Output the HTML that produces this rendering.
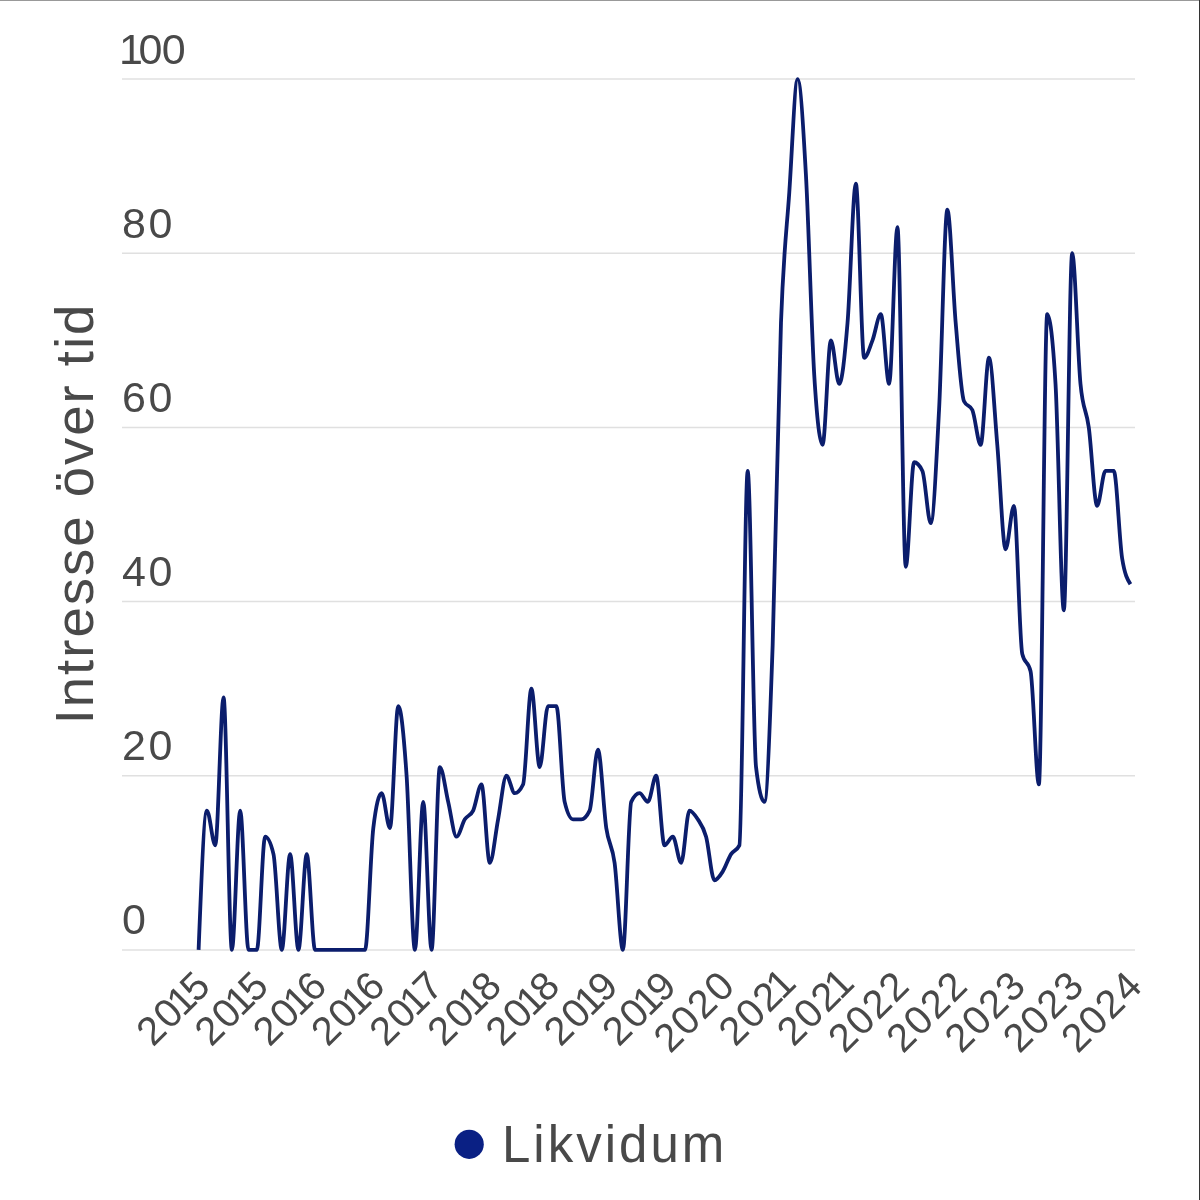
<!DOCTYPE html>
<html lang="sv">
<head>
<meta charset="utf-8">
<title>Likvidum – Intresse över tid</title>
<style>
html,body{margin:0;padding:0;background:#fff;}
body{width:1200px;height:1200px;overflow:hidden;position:relative;font-family:"Liberation Sans", sans-serif;}
svg{display:block;position:absolute;left:0;top:0;}
text{font-family:"Liberation Sans", sans-serif;fill:#494949;}
.ytick{font-size:43px;letter-spacing:2.5px;}
.xtick{font-size:40px;}
.title{font-size:54.5px;letter-spacing:2px;}
.legend{font-size:51px;letter-spacing:3px;}
.frame-top{position:absolute;left:0;top:0;width:1200px;height:1px;background:#999999;}
.frame-right{position:absolute;left:1199px;top:0;width:1px;height:1200px;background:#333333;}
</style>
</head>
<body>
<svg width="1200" height="1200" viewBox="0 0 1200 1200">

<g stroke="#e0e0e0" stroke-width="1.5" shape-rendering="auto">
<line x1="122" y1="949.90" x2="1135" y2="949.90"/>
<line x1="122" y1="775.74" x2="1135" y2="775.74"/>
<line x1="122" y1="601.58" x2="1135" y2="601.58"/>
<line x1="122" y1="427.42" x2="1135" y2="427.42"/>
<line x1="122" y1="253.26" x2="1135" y2="253.26"/>
<line x1="122" y1="79.10" x2="1135" y2="79.10"/>
</g>
<g class="ytick">
<text x="122" y="934.40">0</text>
<text x="122" y="760.24">20</text>
<text x="122" y="586.08">40</text>
<text x="122" y="411.92">60</text>
<text x="122" y="237.76">80</text>
<text x="119" y="63.60"><tspan style="letter-spacing:-4.5px">1</tspan><tspan style="letter-spacing:-0.5px">00</tspan></text>
</g>
<g class="xtick">
<text transform="translate(211.70,988.90) rotate(-45)" x="-83.12 -59.32 -40.42 -21.52" y="0">2015</text>
<text transform="translate(269.94,988.90) rotate(-45)" x="-83.12 -59.32 -40.42 -21.52" y="0">2015</text>
<text transform="translate(328.18,988.90) rotate(-45)" x="-83.12 -59.32 -40.42 -21.52" y="0">2016</text>
<text transform="translate(386.41,988.90) rotate(-45)" x="-83.12 -59.32 -40.42 -21.52" y="0">2016</text>
<text transform="translate(444.65,988.90) rotate(-45)" x="-83.12 -59.32 -40.42 -21.52" y="0">2017</text>
<text transform="translate(502.89,988.90) rotate(-45)" x="-83.12 -59.32 -40.42 -21.52" y="0">2018</text>
<text transform="translate(561.12,988.90) rotate(-45)" x="-83.12 -59.32 -40.42 -21.52" y="0">2018</text>
<text transform="translate(619.36,988.90) rotate(-45)" x="-83.12 -59.32 -40.42 -21.52" y="0">2019</text>
<text transform="translate(677.60,988.90) rotate(-45)" x="-83.12 -59.32 -40.42 -21.52" y="0">2019</text>
<text transform="translate(735.84,988.90) rotate(-45)" x="-92.92 -69.12 -45.32 -21.52" y="0">2020</text>
<text transform="translate(794.08,988.90) rotate(-45)" x="-83.12 -59.32 -35.52 -16.62" y="0">2021</text>
<text transform="translate(852.31,988.90) rotate(-45)" x="-83.12 -59.32 -35.52 -16.62" y="0">2021</text>
<text transform="translate(910.55,988.90) rotate(-45)" x="-92.92 -69.12 -45.32 -21.52" y="0">2022</text>
<text transform="translate(968.79,988.90) rotate(-45)" x="-92.92 -69.12 -45.32 -21.52" y="0">2022</text>
<text transform="translate(1027.03,988.90) rotate(-45)" x="-92.92 -69.12 -45.32 -21.52" y="0">2023</text>
<text transform="translate(1085.26,988.90) rotate(-45)" x="-92.92 -69.12 -45.32 -21.52" y="0">2023</text>
<text transform="translate(1143.50,988.90) rotate(-45)" x="-92.92 -69.12 -45.32 -21.52" y="0">2024</text>
</g>
<text class="title" text-anchor="middle" transform="translate(93,513.5) rotate(-90)">Intresse över tid</text>
<path d="M198.60,949.90C201.37,880.24,204.15,810.57,206.92,810.57C209.69,810.57,212.47,845.40,215.24,845.40C218.01,845.40,220.79,697.37,223.56,697.37C226.33,697.37,229.11,949.90,231.88,949.90C234.65,949.90,237.42,810.57,240.20,810.57C242.97,810.57,245.74,949.90,248.52,949.90C251.29,949.90,254.06,949.90,256.84,949.90C259.61,949.90,262.38,836.70,265.16,836.70C267.93,836.70,270.70,842.50,273.48,854.11C276.25,865.72,279.02,949.90,281.80,949.90C284.57,949.90,287.34,854.11,290.12,854.11C292.89,854.11,295.66,949.90,298.44,949.90C301.21,949.90,303.98,854.11,306.76,854.11C309.53,854.11,312.30,949.90,315.07,949.90C317.85,949.90,320.62,949.90,323.39,949.90C326.17,949.90,328.94,949.90,331.71,949.90C334.49,949.90,337.26,949.90,340.03,949.90C342.81,949.90,345.58,949.90,348.35,949.90C351.13,949.90,353.90,949.90,356.67,949.90C359.45,949.90,362.22,949.90,364.99,949.90C367.77,949.90,370.54,851.21,373.31,827.99C376.09,804.77,378.86,793.16,381.63,793.16C384.41,793.16,387.18,827.99,389.95,827.99C392.73,827.99,395.50,706.08,398.27,706.08C401.04,706.08,403.82,735.10,406.59,775.74C409.36,816.38,412.14,949.90,414.91,949.90C417.68,949.90,420.46,801.86,423.23,801.86C426.00,801.86,428.78,949.90,431.55,949.90C434.32,949.90,437.10,767.03,439.87,767.03C442.64,767.03,445.42,790.25,448.19,801.86C450.96,813.47,453.74,836.70,456.51,836.70C459.28,836.70,462.06,823.63,464.83,819.28C467.60,814.93,470.38,816.38,473.15,810.57C475.92,804.77,478.69,784.45,481.47,784.45C484.24,784.45,487.01,862.82,489.79,862.82C492.56,862.82,495.33,833.79,498.11,819.28C500.88,804.77,503.65,775.74,506.43,775.74C509.20,775.74,511.97,793.16,514.75,793.16C517.52,793.16,520.29,790.25,523.07,784.45C525.84,778.64,528.61,688.66,531.39,688.66C534.16,688.66,536.93,767.03,539.71,767.03C542.48,767.03,545.25,706.08,548.03,706.08C550.80,706.08,553.57,706.08,556.34,706.08C559.12,706.08,561.89,790.25,564.66,801.86C567.44,813.47,570.21,819.28,572.98,819.28C575.76,819.28,578.53,819.28,581.30,819.28C584.08,819.28,586.85,816.38,589.62,810.57C592.40,804.77,595.17,749.62,597.94,749.62C600.72,749.62,603.49,809.12,606.26,827.99C609.04,846.86,611.81,842.50,614.58,862.82C617.36,883.14,620.13,949.90,622.90,949.90C625.68,949.90,628.45,807.67,631.22,801.86C633.99,796.06,636.77,793.16,639.54,793.16C642.31,793.16,645.09,801.86,647.86,801.86C650.63,801.86,653.41,775.74,656.18,775.74C658.95,775.74,661.73,845.40,664.50,845.40C667.27,845.40,670.05,836.70,672.82,836.70C675.59,836.70,678.37,862.82,681.14,862.82C683.91,862.82,686.69,810.57,689.46,810.57C692.23,810.57,695.01,814.93,697.78,819.28C700.55,823.63,703.33,826.54,706.10,836.70C708.87,846.86,711.64,880.24,714.42,880.24C717.19,880.24,719.96,875.88,722.74,871.53C725.51,867.17,728.28,858.47,731.06,854.11C733.83,849.76,736.60,851.21,739.38,845.40C742.15,839.60,744.92,470.96,747.70,470.96C750.47,470.96,753.24,743.81,756.02,767.03C758.79,790.25,761.56,801.86,764.34,801.86C767.11,801.86,769.88,724.94,772.66,645.12C775.43,565.30,778.20,398.39,780.98,322.92C783.75,247.45,786.52,232.94,789.29,192.30C792.07,151.67,794.84,79.10,797.61,79.10C800.39,79.10,803.16,125.54,805.93,174.89C808.71,224.23,811.48,330.18,814.25,375.17C817.03,420.16,819.80,444.84,822.57,444.84C825.35,444.84,828.12,340.34,830.89,340.34C833.67,340.34,836.44,383.88,839.21,383.88C841.99,383.88,844.76,356.30,847.53,322.92C850.31,289.54,853.08,183.60,855.85,183.60C858.63,183.60,861.40,357.76,864.17,357.76C866.94,357.76,869.72,347.60,872.49,340.34C875.26,333.08,878.04,314.22,880.81,314.22C883.58,314.22,886.36,383.88,889.13,383.88C891.90,383.88,894.68,227.14,897.45,227.14C900.22,227.14,903.00,566.75,905.77,566.75C908.54,566.75,911.32,462.25,914.09,462.25C916.86,462.25,919.64,465.15,922.41,470.96C925.18,476.77,927.96,523.21,930.73,523.21C933.50,523.21,936.28,462.25,939.05,410.00C941.82,357.76,944.59,209.72,947.37,209.72C950.14,209.72,952.91,290.99,955.69,322.92C958.46,354.85,961.23,395.49,964.01,401.30C966.78,407.10,969.55,404.20,972.33,410.00C975.10,415.81,977.87,444.84,980.65,444.84C983.42,444.84,986.19,357.76,988.97,357.76C991.74,357.76,994.51,412.91,997.29,444.84C1000.06,476.77,1002.83,549.33,1005.61,549.33C1008.38,549.33,1011.15,505.79,1013.93,505.79C1016.70,505.79,1019.47,642.22,1022.24,653.83C1025.02,665.44,1027.79,659.63,1030.56,671.24C1033.34,682.85,1036.11,784.45,1038.88,784.45C1041.66,784.45,1044.43,314.22,1047.20,314.22C1049.98,314.22,1052.75,337.44,1055.52,383.88C1058.30,430.32,1061.07,610.29,1063.84,610.29C1066.62,610.29,1069.39,253.26,1072.16,253.26C1074.94,253.26,1077.71,354.85,1080.48,383.88C1083.26,412.91,1086.03,407.10,1088.80,427.42C1091.58,447.74,1094.35,505.79,1097.12,505.79C1099.89,505.79,1102.67,470.96,1105.44,470.96C1108.21,470.96,1110.99,470.96,1113.76,470.96C1116.53,470.96,1119.31,540.62,1122.08,558.04C1124.85,575.46,1127.63,579.81,1130.40,584.16" fill="none" stroke="#0b1d6c" stroke-width="3.8" stroke-linejoin="round" stroke-linecap="butt"/>
<circle cx="469.2" cy="1144.3" r="14.6" fill="#0a2084"/>
<text class="legend" x="502" y="1161.6">Likvidum</text>
</svg>
<div class="frame-top"></div>
<div class="frame-right"></div>
</body>
</html>
